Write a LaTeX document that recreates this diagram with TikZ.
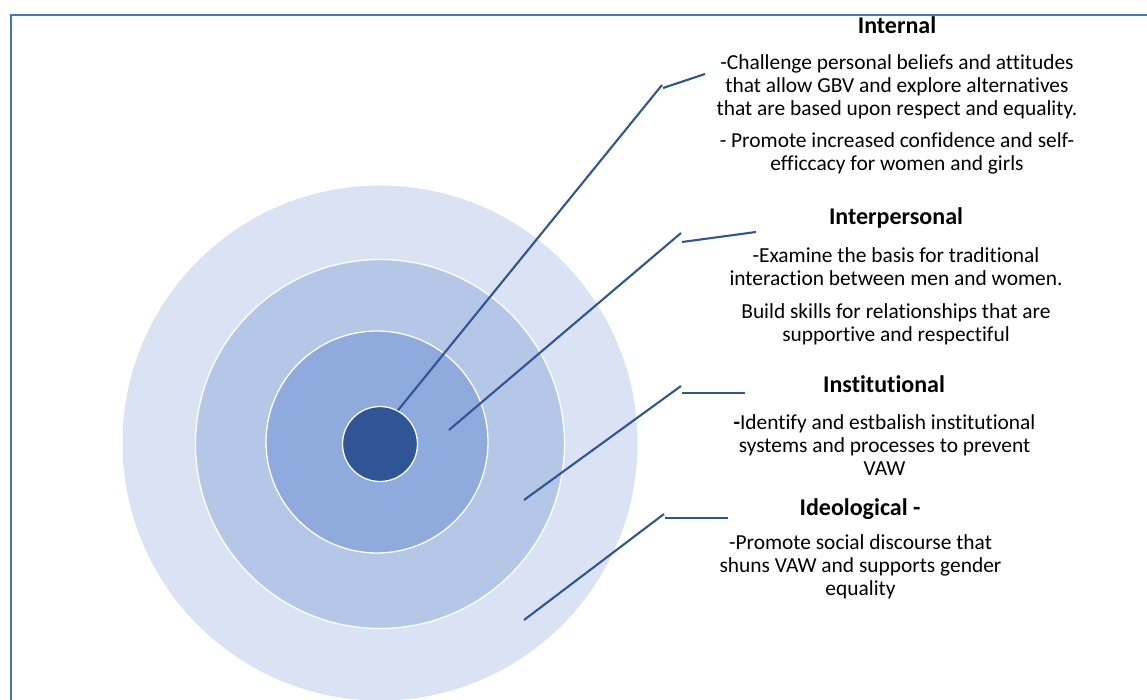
\documentclass[tikz,border=0pt]{standalone}
\usepackage{fontspec}
\setmainfont{Carlito}[Ligatures=NoCommon]
\definecolor{frameblue}{HTML}{4472C4}
\definecolor{lineblue}{HTML}{2F5597}
\definecolor{ringA}{HTML}{DAE3F3}
\definecolor{ringB}{HTML}{B4C7E7}
\definecolor{ringC}{HTML}{8FAADC}
\definecolor{ringD}{HTML}{2F5597}
\begin{document}
\begin{tikzpicture}[x=1pt,y=-1pt,
  frameline/.style={draw=frameblue,line width=2pt},
  ring/.style={circle,draw=white,line width=1.3pt,inner sep=0pt},
  callout/.style={draw=lineblue,line width=2.1pt},
  txt/.style={align=center,inner sep=0pt,font=\fontsize{21.4}{23}\selectfont,
     execute at begin node=\strut,execute at end node=\strut},
  head/.style={txt,font=\fontsize{24}{23}\selectfont\bfseries}]
\useasboundingbox (0,0) rectangle (1147,700);
% frame
\draw[frameline] (11,701) -- (11,15) -- (1148,15);
% rings
\node[ring,draw=none,fill=ringA,minimum size=515pt] (c1) at (380,443) {};
\node[ring,fill=ringB,minimum size=369pt] (c2) at (380,444) {};
\node[ring,fill=ringC,minimum size=222pt] (c3) at (377,442) {};
\node[ring,fill=ringD,minimum size=75pt] (c4) at (380,444) {};
% callout points
\coordinate (a1) at (449,430);
\coordinate (a2) at (524,500);
\coordinate (a3) at (524,620);
\coordinate (k0) at (662,85);   \coordinate (k0s) at (663,88);  \coordinate (e0) at (705,74);
\coordinate (k1) at (681,233);  \coordinate (k1s) at (682,242); \coordinate (e1) at (756,232);
\coordinate (k2) at (681,386);  \coordinate (k2s) at (682,393); \coordinate (e2) at (745,393);
\coordinate (k3) at (664,514);  \coordinate (k3s) at (665,518); \coordinate (e3) at (728,518);
% text
\node[head] (hInt) at (897,29) {Internal};
\node[txt] (pInt1) at (897,89) {-Challenge personal beliefs and attitudes\\that allow GBV and explore alternatives\\that are based upon respect and equality.};
\node[txt] (pInt2) at (897,155.5) {- Promote increased confidence and self-\\efficcacy for women and girls};
\node[head] (hIntp) at (896,220) {Interpersonal};
\node[txt] (pIntp1) at (896,270.5) {-Examine the basis for traditional\\interaction between men and women.};
\node[txt] (pIntp2) at (896,326) {Build skills for relationships that are\\supportive and respectiful};
\node[head] (hInst) at (884,388) {Institutional};
\node[txt] (pInst) at (884.5,449) {\textbf{-}Identify and estbalish institutional\\systems and processes to prevent\\VAW};
\node[head] (hIdeo) at (860,511) {Ideological -};
\node[txt] (pIdeo) at (860.5,569) {-Promote social discourse that\\shuns VAW and supports gender\\equality};
% callouts
\draw[callout] (c4.62) -- (k0);
\draw[callout] (k0s) -- (e0);
\draw[callout] (a1) -- (k1);
\draw[callout] (k1s) -- (e1);
\draw[callout] (a2) -- (k2);
\draw[callout] (k2s) -- (e2);
\draw[callout] (a3) -- (k3);
\draw[callout] (k3s) -- (e3);
\end{tikzpicture}
\end{document}
